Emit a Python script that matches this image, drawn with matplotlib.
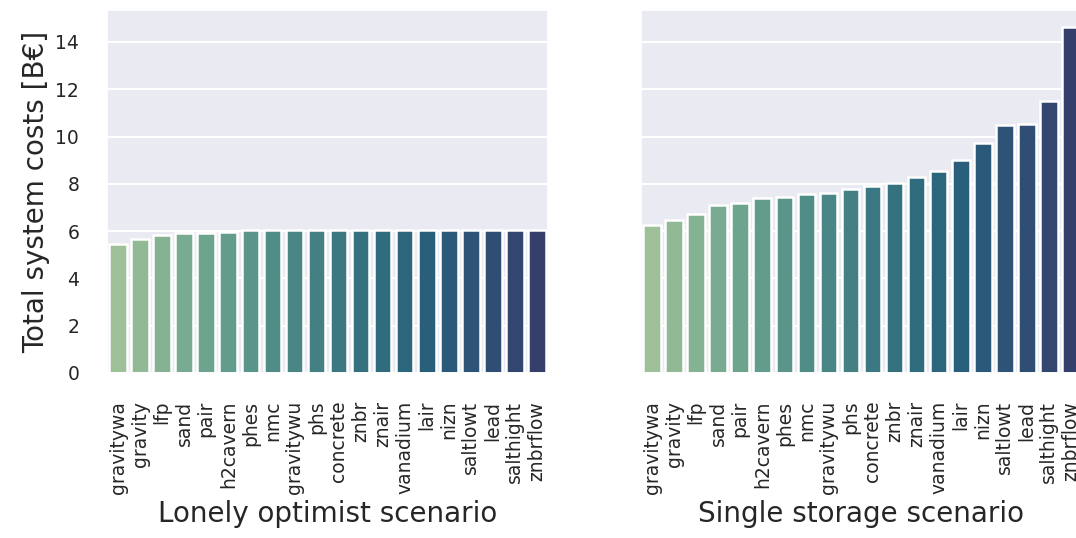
import numpy as np
import pandas as pd
import matplotlib
matplotlib.use("Agg")
import matplotlib.pyplot as plt
import seaborn as sns

techs = ["gravitywa", "gravity", "lfp", "sand", "pair", "h2cavern", "phes", "nmc",
         "gravitywu", "phs", "concrete", "znbr", "znair", "vanadium", "lair", "nizn",
         "saltlowt", "lead", "salthight", "znbrflow"]

# total system costs in B€
lonely_costs = [5.45, 5.66, 5.82, 5.93, 5.92, 5.96, 6.04, 6.04, 6.04, 6.04,
                6.04, 6.04, 6.04, 6.04, 6.04, 6.04, 6.04, 6.04, 6.04, 6.04]
single_costs = [6.25, 6.49, 6.73, 7.10, 7.17, 7.38, 7.45, 7.55, 7.62, 7.77,
                7.89, 8.04, 8.28, 8.56, 9.00, 9.71, 10.47, 10.52, 11.50, 14.62]

sns.set_theme(style="darkgrid", rc={"grid.linewidth": 1.5})
plt.rcParams["font.family"] = ["DejaVu Sans"]

fig = plt.figure(figsize=(10.76, 5.38), dpi=100)
ax1 = fig.add_axes([107/1076, 165/538, 441/1076, 363/538])
ax2 = fig.add_axes([641/1076, 165/538, 441/1076, 363/538], sharey=ax1)

df1 = pd.DataFrame({"tech": techs, "cost": lonely_costs})
df2 = pd.DataFrame({"tech": techs, "cost": single_costs})

for ax, df, label in [(ax1, df1, "Lonely optimist scenario"),
                      (ax2, df2, "Single storage scenario")]:
    sns.barplot(data=df, x="tech", y="cost", hue="tech", palette="crest",
                legend=False, ax=ax, edgecolor="white", linewidth=1.8)
    ax.set_xlabel(label, fontsize=20)
    ax.set_ylabel("")
    ax.tick_params(axis="x", labelrotation=90, labelsize=13.5, pad=14)
    ax.tick_params(axis="y", labelsize=13.5, pad=14)
    ax.grid(axis="x", visible=False)

ax1.set_ylim(0, 15.35)
ax1.set_yticks(np.arange(0, 15, 2))
ax1.set_ylabel("Total system costs [B€]", fontsize=20)
ax2.tick_params(axis="y", labelleft=False)

plt.savefig("out.png")
